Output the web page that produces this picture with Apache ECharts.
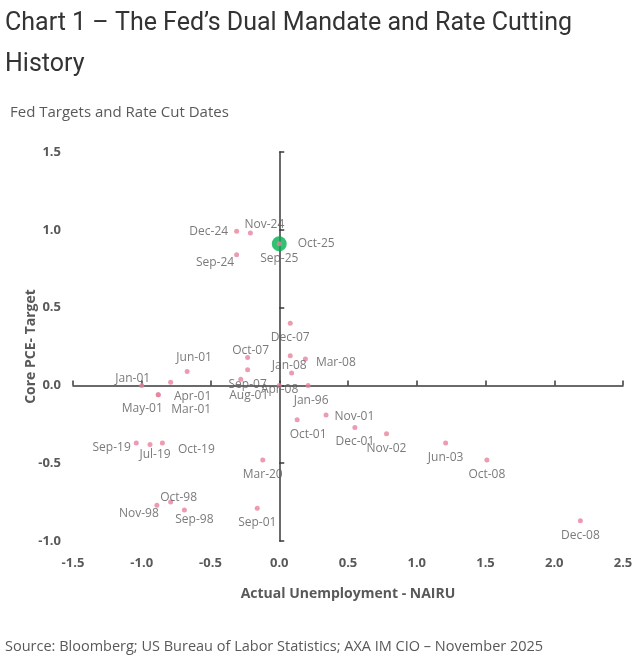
<!DOCTYPE html>
<html lang="en">
<head>
    <meta charset="UTF-8">
    <title>Fed Targets and Rate Cut Dates</title>
    <style>
    body{margin:0;background:#fff;}
    #main{width:640px;height:660px;}
    </style>
</head>
<body>
    <div id="main"></div>
    <script src="https://cdn.jsdelivr.net/npm/echarts@6/dist/echarts.min.js"></script>
    <script>
    // rate cut dates, unemployment gap (x) and core PCE gap (y)
    var cutDates = ['Dec-24','Nov-24','Sep-24','Sep-25',
        'Dec-07','Oct-07','Jan-08','Mar-08','Sep-07','Apr-08','Aug-01','','Jan-96','Nov-01','Oct-01',
        'Jan-01','Apr-01','May-01','Mar-01','Jun-01',
        'Sep-19','Jul-19','Oct-19','Mar-20',
        'Oct-98','Nov-98','Sep-98','Sep-01',
        'Dec-01','Nov-02','Jun-03','Oct-08','Dec-08'];
    var unempGap = [-0.31,-0.21,-0.31,0.0,
        0.08,-0.23,0.08,0.19,-0.23,0.09,-0.28,0.0,0.21,0.34,0.13,
        -1.0,-0.79,-0.88,-0.88,-0.67,
        -1.04,-0.94,-0.85,-0.12,
        -0.79,-0.89,-0.69,-0.16,
        0.55,0.78,1.21,1.51,2.19];
    var pceGap = [0.99,0.98,0.84,0.91,
        0.40,0.18,0.19,0.17,0.10,0.08,0.04,0.0,0.0,-0.19,-0.22,
        0.0,0.02,-0.06,-0.06,0.09,
        -0.37,-0.38,-0.37,-0.48,
        -0.75,-0.77,-0.80,-0.79,
        -0.27,-0.31,-0.37,-0.48,-0.87];

    // latest meeting, highlighted
    var latestDate = ['Oct-25'];
    var latestX = [0.0];
    var latestY = [0.91];

    var xTicks = [-1.5, 2.5, 0.5];   // min, max, step
    var yTicks = [-1.0, 1.5, 0.5];

    // label placement around each dot: side, nudge x, nudge y (default bottom)
    var labelPos = {
        'Dec-24':['left',0,0], 'Nov-24':['top',14,6], 'Sep-24':['left',6,8],
        'Oct-07':['top',3,8], 'Jan-08':['bottom',-1,-5], 'Mar-08':['right',2,4],
        'Apr-08':['bottom',-12,2], 'Aug-01':['bottom',8,2], 'Jan-96':['bottom',3,1],
        'Nov-01':['right',0,2], 'Oct-01':['bottom',11,0],
        'Jan-01':['top',-9,8], 'Apr-01':['bottom',22,0], 'May-01':['bottom',-16,-1],
        'Mar-01':['bottom',33,0], 'Jun-01':['top',7,1],
        'Sep-19':['left',3,5], 'Jul-19':['bottom',5,-4], 'Oct-19':['right',7,7],
        'Oct-98':['top',8,10], 'Nov-98':['bottom',-18,-6], 'Sep-98':['bottom',10,-5]
    };

    var grey = '#595959';
    var points = cutDates.map(function (d, i) {
        var p = labelPos[d] || ['bottom',0,0];
        return {
            name: d,
            value: [unempGap[i], pceGap[i]],
            label: {show: d !== '', position: p[0], offset: [p[1], p[2]]}
        };
    });

    var myChart = echarts.init(document.getElementById('main'));
    var option = {
        textStyle: {fontFamily: 'Open Sans'},
        title: [{
            text: 'Chart 1 – The Fed’s Dual Mandate and Rate Cutting\nHistory',
            left: 0, top: -2,
            textStyle: {fontFamily: 'Roboto', fontSize: 25, fontWeight: 'normal', color: '#333',
                lineHeight: 41}
        }, {
            text: 'Fed Targets and Rate Cut Dates',
            left: 5, top: 100,
            textStyle: {fontFamily: 'Open Sans', fontSize: 15, fontWeight: 'normal', color: grey}
        }, {
            text: 'Source: Bloomberg; US Bureau of Labor Statistics; AXA IM CIO – November 2025',
            left: 0, top: 634,
            textStyle: {fontFamily: 'Open Sans', fontSize: 14.5, fontWeight: 'normal', color: grey}
        }],
        grid: {left: 73, right: 17, top: 152, bottom: 119},
        xAxis: [{
            type: 'value', min: xTicks[0], max: xTicks[1], interval: xTicks[2],
            name: 'Actual Unemployment - NAIRU', nameLocation: 'middle', nameGap: 46,
            nameMoveOverlap: false,
            nameTextStyle: {fontWeight: 'bold', fontSize: 14, color: grey},
            axisLine: {show: false, onZero: false},
            axisTick: {show: false},
            splitLine: {show: false},
            axisLabel: {fontWeight: 'bold', fontSize: 13, color: grey, margin: 16,
                formatter: function (v) { return v.toFixed(1); }}
        }, {
            type: 'value', min: xTicks[0], max: xTicks[1], interval: xTicks[2],
            position: 'bottom',
            axisLine: {onZero: true, lineStyle: {color: '#3a3a3a', width: 1.5}},
            axisTick: {inside: true, length: 5, lineStyle: {color: '#3a3a3a', width: 1.5}},
            axisLabel: {show: false},
            splitLine: {show: false}
        }],
        yAxis: [{
            type: 'value', min: yTicks[0], max: yTicks[1], interval: yTicks[2],
            name: 'Core PCE- Target', nameLocation: 'middle', nameGap: 35,
            nameMoveOverlap: false,
            nameTextStyle: {fontWeight: 'bold', fontSize: 14, color: grey},
            axisLine: {show: false, onZero: false},
            axisTick: {show: false},
            splitLine: {show: false},
            axisLabel: {fontWeight: 'bold', fontSize: 13, color: grey, margin: 12,
                formatter: function (v) { return v.toFixed(1); }}
        }, {
            type: 'value', min: yTicks[0], max: yTicks[1], interval: yTicks[2],
            position: 'left',
            axisLine: {onZero: true, lineStyle: {color: '#3a3a3a', width: 1.5}},
            axisTick: {inside: true, length: 5, lineStyle: {color: '#3a3a3a', width: 1.5}},
            axisLabel: {show: false},
            splitLine: {show: false}
        }],
        series: [{
            name: 'Latest',
            type: 'scatter',
            symbolSize: 15,
            itemStyle: {color: '#00b050'},
            data: latestDate.map(function (d, i) {
                return {name: d, value: [latestX[i], latestY[i]]};
            }),
            label: {show: true, position: 'right', distance: 11, formatter: '{b}',
                fontSize: 12, color: grey}
        }, {
            name: 'Cuts',
            type: 'scatter',
            symbolSize: 5,
            itemStyle: {color: '#e8829c'},
            data: points,
            label: {formatter: '{b}', fontSize: 12, color: grey, distance: 6}
        }]
    };
    myChart.setOption(option);
    </script>
</body>
</html>
